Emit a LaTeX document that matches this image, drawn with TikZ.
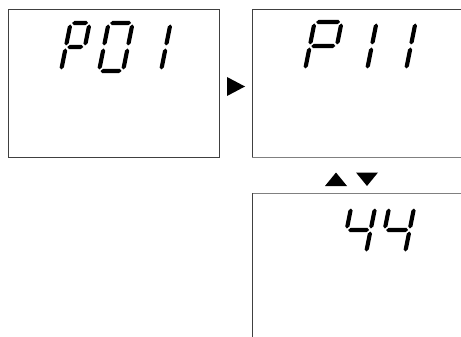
\documentclass[tikz,border=0pt]{standalone}
\usetikzlibrary{calc}
\newcommand\segT{4.2}
\newcommand\segG{1.5}
% horizontal segment: x1, x2, y
\newcommand\hseg[3]{\fill ({#1},{#3}) -- ({#1+\segT/2},{#3-\segT/2}) -- ({#2-\segT/2},{#3-\segT/2}) -- ({#2},{#3}) -- ({#2-\segT/2},{#3+\segT/2}) -- ({#1+\segT/2},{#3+\segT/2}) -- cycle;}
% vertical segment: x, ytop, ybottom
\newcommand\vseg[3]{\fill ({#1},{#2}) -- ({#1+\segT/2},{#2+\segT/2}) -- ({#1+\segT/2},{#3-\segT/2}) -- ({#1},{#3}) -- ({#1-\segT/2},{#3-\segT/2}) -- ({#1-\segT/2},{#2+\segT/2}) -- cycle;}
\newcommand\sega{\hseg{\segG}{\dw-\segG}{-\dh}}
\newcommand\segb{\vseg{\dw}{-\dh+\segG}{-\dh/2-\segG}}
\newcommand\segc{\vseg{\dw}{-\dh/2+\segG}{-\segG}}
\newcommand\segd{\hseg{\segG}{\dw-\segG}{0}}
\newcommand\sege{\vseg{0}{-\dh/2+\segG}{-\segG}}
\newcommand\segf{\vseg{0}{-\dh+\segG}{-\dh/2-\segG}}
\newcommand\segg{\hseg{\segG}{\dw-\segG}{-\dh/2}}
% digit: x0, y0 (bottom-left), width, height, segments
\newcommand\sevdigit[5]{%
  \begin{scope}[shift={(#1,#2)},xslant=0.2]
    \def\dw{#3}\def\dh{#4}%
    \foreach \s in {#5}{\csname seg\s\endcsname}
  \end{scope}}
\tikzset{
  frame/.style={draw=black!75, line width=0.9pt},
  framegray/.style={draw=black!50, line width=1pt},
  marker/.style={fill=black}
}
\begin{document}
\begin{tikzpicture}[x=1pt,y=-1pt]
\useasboundingbox[fill=white] (0,0) rectangle (461,337);
% boxes
\draw[frame] (8,9) rectangle (219,157);
\draw[frame] (465,9) -- (252,9) -- (252,157);
\draw[framegray] (252,157) -- (465,157);
\draw[framegray] (465,193) -- (252,193);
\draw[frame] (252,193) -- (252,340);
% markers
\fill[marker] (227,77) -- (245,86.5) -- (227,96) -- cycle;
\fill[marker] (325,186) -- (336,172.5) -- (347,186) -- cycle;
\fill[marker] (356,172.5) -- (378,172.5) -- (367,186) -- cycle;
% P01
\sevdigit{61}{71}{19}{48}{a,b,g,e,f}
\sevdigit{99}{71}{24}{48}{a,b,c,d,e,f}
\sevdigit{161}{71}{0}{48}{b,c}
% P11
\sevdigit{305}{70}{27}{48}{a,b,g,e,f}
\sevdigit{367}{70}{0}{48}{b,c}
\sevdigit{406}{70}{0}{48}{b,c}
% 44
\sevdigit{342}{253}{24}{46}{f,g,b,c}
\sevdigit{380}{253}{25}{46}{f,g,b,c}
\end{tikzpicture}
\end{document}
